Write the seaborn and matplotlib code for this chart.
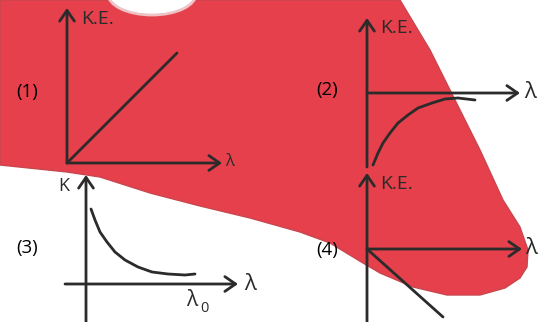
import numpy as np
import pandas as pd
import matplotlib.pyplot as plt
import seaborn as sns
from matplotlib.patches import Ellipse

sns.set_style("white")
plt.rcParams['font.family'] = ['Open Sans', 'DejaVu Sans']

W, H = 538, 322
INK = "#2b2b2b"
RED = "#e5404b"

# red blob behind the graphs (outline, image pixels)
blob_x = [0, 400, 430, 455, 480, 503, 520, 528, 527, 520, 505, 480, 447, 413, 380,
          363, 330, 300, 250, 200, 150, 100, 67, 0]
blob_y = [0, 0, 50, 100, 150, 200, 227, 250, 267, 278, 288, 295, 295, 287, 273,
          263, 243, 232, 218, 206, 193, 177, 172, 165]

# graph (1): straight line through origin
lam1 = [0, 110]
ke1 = [0, 110]

# graph (2): rising curve below the axis, levelling off
lam2 = [6, 11, 16, 23, 31, 41, 51, 65, 78, 91, 108]
ke2 = [-72, -60, -50, -40, -30, -22, -15, -10, -6, -5, -7]

# graph (3): decaying curve
lam3 = [5, 9, 14, 21, 29, 39, 52, 66, 82, 99, 109]
ke3 = [75, 64, 52, 42, 32, 24, 17, 12, 10, 9, 10]

# graph (4): straight line going down
lam4 = [0, 76]
ke4 = [0, -68]

fig = plt.figure(figsize=(W / 100, H / 100), dpi=100)
bg = fig.add_axes([0, 0, 1, 1])
bg.set_xlim(0, W)
bg.set_ylim(H, 0)
bg.axis('off')
bg.fill(blob_x, blob_y, color=RED, edgecolor="#c8474f", linewidth=1.0)
bg.add_patch(Ellipse((152, -6), 88, 42, facecolor="white", edgecolor="#eec3c6", linewidth=2))


def panel(origin, xr, yr):
    # axes whose data units are pixels measured from the graph origin
    ox, oy = origin
    rect = [(ox + xr[0]) / W, (H - oy + yr[0]) / H, (xr[1] - xr[0]) / W, (yr[1] - yr[0]) / H]
    ax = fig.add_axes(rect)
    ax.set_xlim(*xr)
    ax.set_ylim(*yr)
    ax.axis('off')
    ax.patch.set_alpha(0)
    return ax


def arrow(ax, start, end):
    ax.annotate('', xy=end, xytext=start,
                arrowprops=dict(arrowstyle='->,head_length=0.55,head_width=0.38',
                                lw=2, color=INK, mutation_scale=14,
                                shrinkA=0, shrinkB=0))


def curve(ax, x, y):
    sns.lineplot(x=x, y=y, ax=ax, color=INK, linewidth=2, sort=False, estimator=None,
                 solid_joinstyle='round', solid_capstyle='round')


# (1)
ax1 = panel((67, 163), (-70, 180), (-12, 165))
arrow(ax1, (0, 0), (155, 0))
arrow(ax1, (0, 0), (0, 155))
curve(ax1, lam1, ke1)
ax1.text(14, 144, "K.E.", fontsize=14, color=INK, va='center', ha='left')
ax1.text(163, 1, "λ", fontsize=12, color=INK, va='center', ha='center')
ax1.text(-40, 71, "(1)", fontsize=13.5, color="black", va='center', ha='center')

# (2)
ax2 = panel((367, 93), (-70, 175), (-80, 85))
arrow(ax2, (0, 0), (153, 0))
arrow(ax2, (0, -74), (0, 75))
curve(ax2, lam2, ke2)
ax2.text(13, 65, "K.E.", fontsize=14, color=INK, va='center', ha='left')
ax2.text(163, 0, "λ", fontsize=16, color=INK, va='center', ha='center')
ax2.text(-40, 3, "(2)", fontsize=13.5, color="black", va='center', ha='center')

# (3)
ax3 = panel((86, 284), (-70, 180), (-40, 115))
arrow(ax3, (-21, 0), (152, 0))
arrow(ax3, (0, -40), (0, 109))
curve(ax3, lam3, ke3)
ax3.text(-22, 98, "K", fontsize=13, color=INK, va='center', ha='center')
ax3.text(164, -1, "λ", fontsize=16, color=INK, va='center', ha='center')
ax3.text(106, -16, "λ", fontsize=15, color=INK, va='center', ha='center')
ax3.text(118, -25, "0", fontsize=10.5, color=INK, va='center', ha='center')
ax3.text(-59, 36, "(3)", fontsize=13.5, color="black", va='center', ha='center')

# (4)
ax4 = panel((367, 249), (-70, 175), (-75, 80))
arrow(ax4, (0, 0), (155, 0))
arrow(ax4, (0, -75), (0, 76))
curve(ax4, lam4, ke4)
ax4.text(13, 65, "K.E.", fontsize=14, color=INK, va='center', ha='left')
ax4.text(164, 0, "λ", fontsize=16, color=INK, va='center', ha='center')
ax4.text(-40, -1, "(4)", fontsize=13.5, color="black", va='center', ha='center')

fig.savefig("out.png", dpi=100)
